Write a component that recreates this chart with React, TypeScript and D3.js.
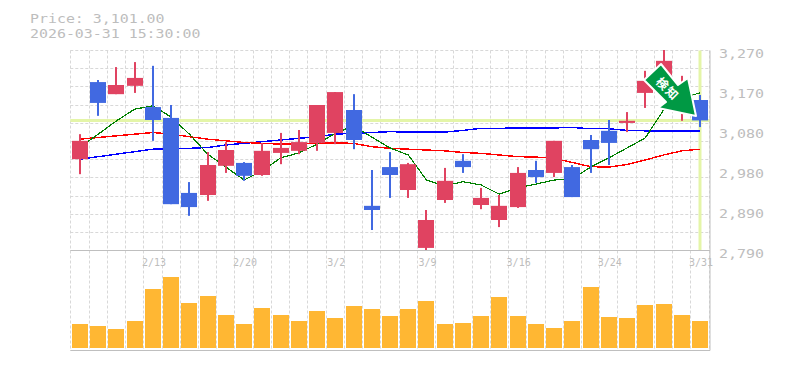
import React from "react";
import * as d3 from "d3";

const opens = [3008,3193,3164,3184,3133,3107,2927,2922,2992,2999,2970,3023,3028,3047,3071,3126,2896,2989,2934,2795,2910,3004,2898,2862,2893,2982,2975,2989,3054,3076,3095,3167,3174,3130,3150];
const highs = [3068,3198,3229,3241,3232,3138,2953,3025,3049,3001,3047,3071,3078,3138,3169,3164,2982,3025,2999,2886,2987,3020,2939,2922,2989,3004,3052,2994,3066,3102,3121,3220,3270,3208,3162];
const lows = [2972,3112,3164,3167,3052,2900,2872,2908,2975,2956,2968,2996,3020,3028,3044,3032,2838,2915,2915,2790,2903,2975,2888,2845,2891,2951,2965,2917,2975,2994,3073,3131,3162,3100,3085];
const closes = [3052,3143,3186,3203,3102,2900,2893,2994,3030,2968,3028,3035,3049,3138,3169,3054,2886,2970,2996,2862,2956,2989,2915,2896,2975,2965,3052,2917,3032,3047,3100,3196,3244,3174,3101];
const volumes = [24,22,19,27,59,71,45,52,33,24,40,33,27,37,30,42,39,32,39,47,24,25,32,51,32,24,20,27,61,31,30,43,44,33,27];
const maShort = [3037,3068,3100,3128,3136,3109,3068,3020,2989,2958,2980,3011,3023,3044,3070,3088,3061,3035,3018,2958,2944,2954,2946,2924,2939,2948,2958,2960,2989,3011,3035,3059,3126,3155,3167];
const maMid = [3056,3060,3064,3068,3072,3068,3062,3056,3052,3048,3046,3044,3045,3046,3047,3046,3038,3034,3032,3030,3028,3024,3022,3018,3014,3013,3010,3000,2990,2989,2995,3006,3018,3028,3032];
const maLong = [3008,3014,3020,3026,3032,3032,3034,3036,3042,3046,3050,3054,3058,3062,3068,3070,3072,3074,3073,3073,3073,3077,3082,3082,3083,3083,3083,3084,3081,3081,3077,3076,3076,3076,3076];
const dateLabels = ["2/13","2/20","3/2","3/9","3/16","3/24","3/31"];
const dateIdx = [4,9,14,19,24,29,34];
const priceLabels = ["3,270","3,170","3,080","2,980","2,890","2,790"];
const titleLines = ["Price: 3,101.00","2026-03-31 15:30:00"];
const lastPrice = 3101;
const badgeText = ["検","知"];

const W = 785, H = 370;
const L = 70.3, R = 710, T = 50.5, M = 250.5, B = 350.5;
const MONO = "'DejaVu Sans Mono', monospace";
const RED = "#E04361", BLUE = "#4169E1", TXT = "#bdbdbd", GRID = "#d8d8d8";

export default function App() {
  const n = opens.length;
  const gridStep = 18.24;
  const y = d3.scaleLinear().domain([2790, 3270]).range([250, 50]);
  const x = d3.scaleLinear().domain([0, n - 1]).range([80, 700]);
  const v = d3.scaleLinear().domain([0, 100]).range([348, 248]);
  const line = (arr: number[]) =>
    d3.line<number>().x((_, i) => x(i)).y((d) => y(d)).curve(d3.curveLinear)(arr) as string;
  const vGrid = d3.range(0, n + 1).map((i) => Math.round(L + gridStep * i) + 0.5);
  const hGrid = d3.range(0, 11).map((i) => Math.round(50 + 18.2 * i) + 0.5);
  const arrow = d3.line()([[661,64],[644,80],[666,102],[658,108],[696,116],[688,78],[678,85]] as [number,number][]) + "Z";

  return (
    <svg width={W} height={H} style={{ position: "absolute", left: 0, top: 0 }}>
      {titleLines.map((t, i) => (
        <text key={t} x={30} y={23 + i * 15} fill={TXT} fontFamily={MONO} fontSize={13}
          textLength={t.length * 8.97} lengthAdjust="spacingAndGlyphs">{t}</text>
      ))}
      {vGrid.map((gx) => (
        <line key={gx} x1={gx} x2={gx} y1={T} y2={B} stroke={GRID} strokeDasharray="3 2" />
      ))}
      {hGrid.map((gy) => (
        <line key={gy} x1={L} x2={R} y1={gy} y2={gy} stroke={GRID} strokeDasharray="3 2" />
      ))}
      <line x1={L} x2={R} y1={y(lastPrice)} y2={y(lastPrice)} stroke="#e4f5a8" strokeWidth={3} />
      <line x1={x(n - 1)} x2={x(n - 1)} y1={T} y2={M} stroke="#e4f5a8" strokeWidth={3} />
      <path d={line(maLong)} fill="none" stroke="#0000ff" strokeWidth={1.4} shapeRendering="crispEdges" />
      <path d={line(maMid)} fill="none" stroke="#ff0000" strokeWidth={1.4} shapeRendering="crispEdges" />
      <path d={line(maShort)} fill="none" stroke="#008000" strokeWidth={1.2} shapeRendering="crispEdges" />
      {opens.map((o, i) => {
        const c = closes[i];
        const col = c >= o ? RED : BLUE;
        const top = y(Math.max(o, c));
        const bot = y(Math.min(o, c));
        const cx = Math.round(x(i));
        return (
          <g key={i}>
            <rect x={cx - 1} width={2} y={y(highs[i])} height={y(lows[i]) - y(highs[i])} fill={col} />
            <rect x={cx - 8} width={16} y={top} height={Math.max(bot - top, 1)} fill={col} />
          </g>
        );
      })}
      {volumes.map((d, i) => (
        <rect key={i} x={Math.round(x(i)) - 8} width={16} y={v(d)} height={v(0) - v(d)} fill="#FFB733" />
      ))}
      <line x1={L} x2={R} y1={M} y2={M} stroke="#bfbfbf" />
      <line x1={L} x2={R} y1={B} y2={B} stroke="#bfbfbf" />
      <line x1={R} x2={R} y1={T} y2={B} stroke="#bfbfbf" />
      {dateLabels.map((t, i) => (
        <text key={t} x={x(dateIdx[i]) + 1} y={266} textAnchor="middle" fill={TXT} fontFamily={MONO} fontSize={10}>{t}</text>
      ))}
      {priceLabels.map((t, i) => (
        <text key={t} x={719} y={58 + i * 40} fill={TXT} fontFamily={MONO} fontSize={13}
          textLength={45} lengthAdjust="spacingAndGlyphs">{t}</text>
      ))}
      <path d={arrow} fill="#009944" stroke="#fff" strokeWidth={2} strokeLinejoin="round" />
      <g transform="translate(667,88.5) rotate(45)">
        {badgeText.map((t, i) => (
          <text key={t} x={-6.7 + i * 13.4} y={4.3} textAnchor="middle" fill="#fff" fontWeight={700}
            fontFamily="'Noto Sans CJK JP'" fontSize={12}>{t}</text>
        ))}
      </g>
    </svg>
  );
}
